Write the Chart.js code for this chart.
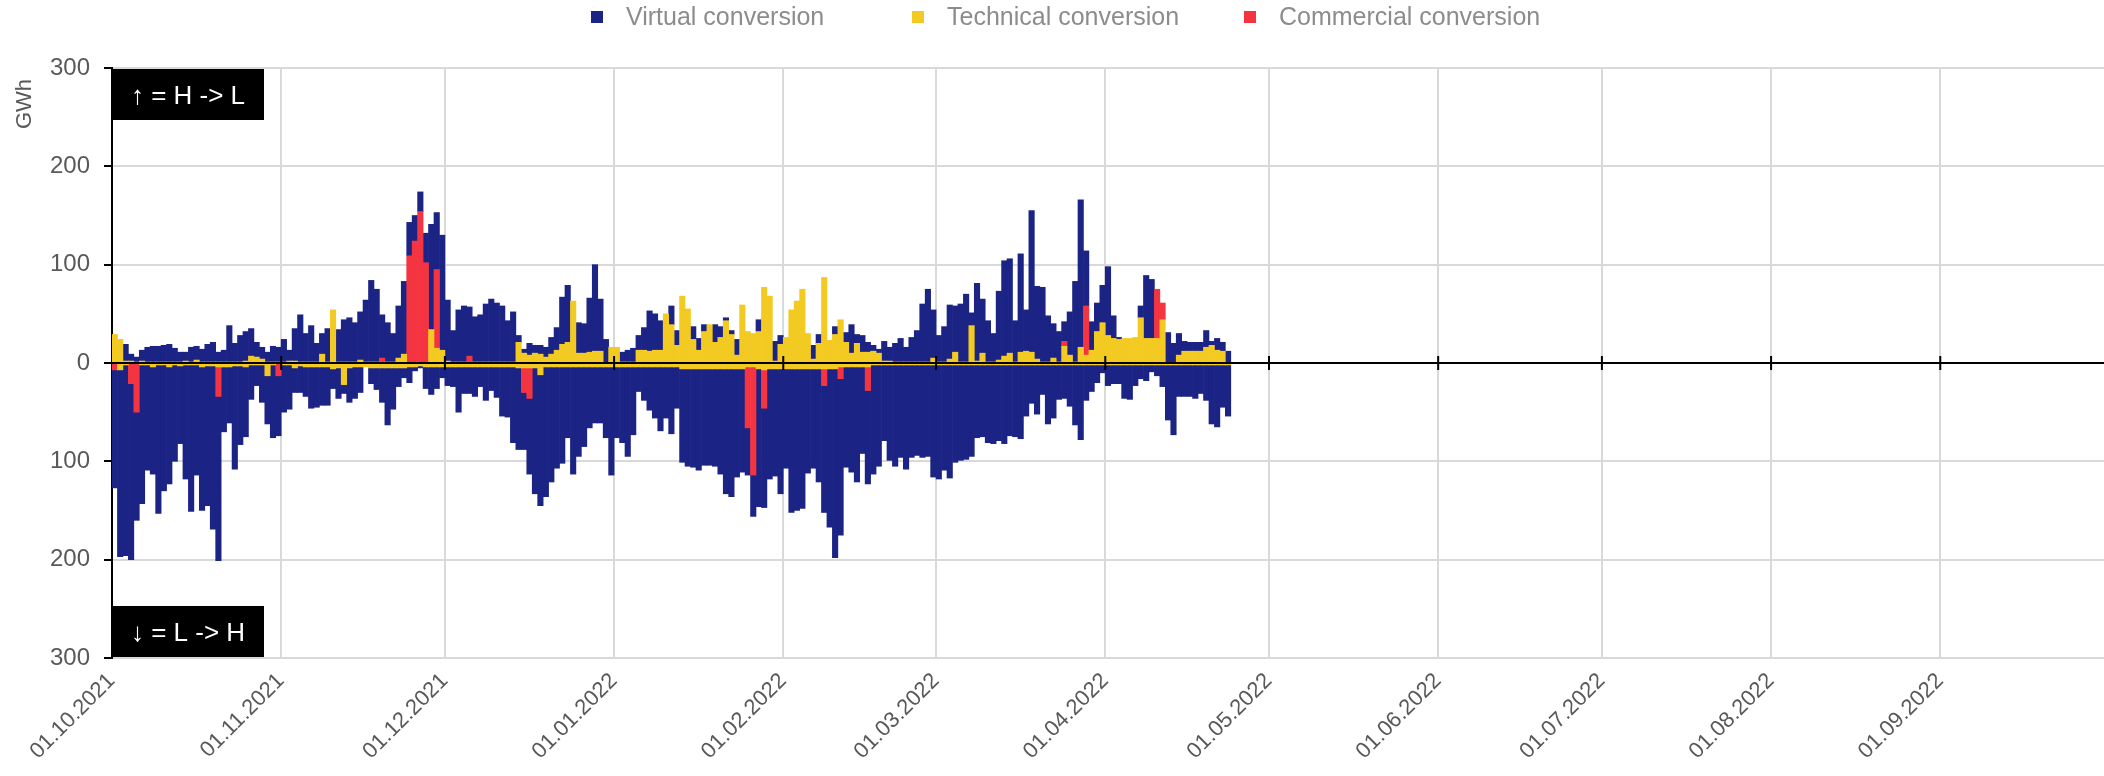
<!DOCTYPE html>
<html>
<head>
<meta charset="utf-8">
<title>Conversion H/L gas</title>
<script src="https://cdn.jsdelivr.net/npm/chart.js@4.4.1/dist/chart.umd.min.js"></script>
<style>
    html, body { margin: 0; padding: 0; background: #fff; }
    #wrap { width: 2104px; height: 776px; }
</style>
</head>
<body>
<div id="wrap"><canvas id="flowChart" width="2104" height="776"></canvas></div>
<script>
// Daily values in GWh from 01.10.2021 (index 0) to 23.04.2022
// "Up" = H -> L (positive), "Down" = L -> H (drawn below zero)
const technicalUp = [
    29, 24, 2, 2, 1, 2, 1, 1, 1, 1,
    1, 1, 1, 2, 1, 3, 1, 1, 1, 1,
    1, 1, 1, 1, 2, 7, 6, 4, 1, 1,
    1, 1, 2, 2, 1, 1, 1, 1, 9, 1,
    54, 1, 1, 1, 1, 3, 1, 1, 1, 0,
    1, 1, 5, 9, 0, 0, 0, 0, 34, 15,
    13, 2, 1, 1, 1, 0, 1, 1, 1, 1,
    1, 1, 1, 1, 21, 10, 8, 10, 9, 6,
    9, 13, 19, 21, 63, 10, 10, 11, 12, 12,
    0, 16, 16, 1, 1, 1, 13, 13, 12, 13,
    13, 50, 39, 18, 68, 55, 24, 13, 32, 39,
    21, 26, 43, 29, 8, 59, 32, 30, 32, 77,
    68, 2, 19, 26, 54, 63, 75, 30, 4, 20,
    87, 23, 29, 44, 21, 10, 20, 11, 11, 12,
    10, 2, 2, 1, 1, 1, 1, 1, 1, 1,
    5, 1, 1, 4, 11, 1, 1, 38, 2, 10,
    1, 1, 3, 7, 10, 1, 11, 12, 11, 4,
    1, 1, 5, 1, 17, 8, 1, 16, 8, 13,
    32, 41, 28, 25, 24, 25, 25, 26, 46, 25,
    25, 25, 44, 0, 0, 8, 12, 12, 12, 12,
    16, 18, 13, 12, 0
];
const commercialUp = [
    0, 0, 0, 0, 0, 0, 0, 0, 0, 0,
    0, 0, 0, 0, 0, 0, 0, 0, 0, 0,
    0, 0, 0, 0, 0, 0, 0, 0, 0, 0,
    0, 0, 0, 0, 0, 0, 0, 0, 0, 0,
    0, 0, 0, 0, 0, 0, 0, 0, 0, 5,
    0, 0, 0, 0, 109, 124, 154, 102, 0, 80,
    0, 0, 0, 0, 0, 7, 0, 0, 0, 0,
    0, 0, 0, 0, 0, 0, 0, 0, 0, 0,
    0, 0, 0, 0, 0, 0, 0, 0, 0, 0,
    0, 0, 0, 0, 0, 0, 0, 0, 0, 0,
    0, 0, 0, 0, 0, 0, 0, 0, 0, 0,
    0, 0, 0, 0, 0, 0, 0, 0, 0, 0,
    0, 0, 0, 0, 0, 0, 0, 0, 0, 0,
    0, 0, 0, 0, 0, 0, 0, 0, 0, 0,
    0, 0, 0, 0, 0, 0, 0, 0, 0, 0,
    0, 0, 0, 0, 0, 0, 0, 0, 0, 0,
    0, 0, 0, 0, 0, 0, 0, 0, 0, 0,
    0, 0, 0, 0, 5, 0, 0, 0, 50, 0,
    0, 0, 0, 0, 0, 0, 0, 0, 0, 0,
    0, 50, 17, 0, 0, 0, 0, 0, 0, 0,
    0, 0, 0, 0, 0
];
const virtualUp = [
    0, 0, 17, 7, 5, 11, 15, 16, 16, 17,
    18, 14, 10, 9, 15, 14, 13, 18, 20, 10,
    12, 37, 19, 27, 30, 28, 15, 12, 10, 16,
    15, 23, 11, 33, 48, 29, 37, 19, 21, 34,
    0, 33, 43, 45, 40, 49, 63, 83, 74, 44,
    40, 29, 53, 74, 34, 26, 20, 30, 107, 58,
    117, 62, 32, 53, 57, 50, 46, 48, 59, 64,
    60, 57, 42, 51, 7, 4, 12, 8, 9, 10,
    17, 23, 48, 58, 0, 31, 30, 55, 88, 53,
    24, 0, 0, 10, 12, 14, 15, 23, 41, 37,
    30, 0, 19, 15, 0, 0, 13, 12, 7, 0,
    18, 11, 3, 4, 16, 0, 0, 0, 12, 0,
    0, 20, 9, 0, 0, 0, 0, 0, 14, 9,
    0, 0, 8, 0, 10, 29, 9, 17, 10, 6,
    4, 20, 14, 19, 24, 15, 25, 32, 59, 74,
    49, 27, 36, 55, 47, 59, 69, 13, 79, 55,
    42, 29, 70, 97, 96, 42, 100, 42, 144, 74,
    76, 47, 35, 31, 20, 44, 82, 150, 56, 29,
    29, 38, 70, 23, 2, 0, 0, 0, 12, 64,
    60, 0, 0, 31, 20, 22, 10, 9, 9, 9,
    17, 4, 12, 9, 12
];
const technicalDown = [
    0, 7, 2, 0, 0, 2, 2, 4, 2, 2,
    4, 2, 3, 2, 2, 2, 4, 3, 3, 4,
    4, 4, 3, 3, 4, 2, 2, 2, 13, 2,
    0, 2, 2, 5, 3, 4, 4, 4, 4, 4,
    6, 5, 22, 5, 4, 4, 4, 5, 5, 5,
    5, 5, 5, 5, 4, 4, 3, 4, 4, 4,
    4, 4, 4, 4, 4, 4, 4, 4, 4, 4,
    4, 4, 4, 4, 5, 5, 5, 5, 12, 4,
    4, 4, 4, 4, 4, 4, 4, 4, 4, 4,
    4, 4, 4, 4, 4, 4, 4, 4, 4, 4,
    4, 4, 4, 4, 6, 6, 6, 6, 6, 6,
    6, 6, 6, 6, 6, 6, 4, 4, 6, 7,
    6, 6, 6, 6, 6, 6, 6, 6, 6, 6,
    6, 6, 6, 4, 4, 4, 4, 4, 4, 2,
    2, 2, 2, 2, 2, 2, 2, 2, 2, 2,
    2, 2, 2, 2, 2, 2, 2, 2, 2, 2,
    2, 2, 2, 2, 2, 2, 2, 2, 2, 2,
    2, 2, 2, 2, 2, 2, 2, 2, 2, 2,
    2, 2, 2, 2, 2, 2, 2, 2, 2, 2,
    2, 2, 2, 2, 2, 2, 2, 2, 2, 2,
    2, 2, 2, 2, 2
];
const commercialDown = [
    7, 0, 0, 21, 50, 0, 0, 0, 0, 0,
    0, 0, 0, 0, 0, 0, 0, 0, 0, 30,
    0, 0, 0, 0, 0, 0, 0, 0, 0, 0,
    13, 0, 0, 0, 0, 0, 0, 0, 0, 0,
    0, 0, 0, 0, 0, 0, 0, 0, 0, 0,
    0, 0, 0, 0, 0, 0, 0, 0, 0, 0,
    0, 0, 0, 0, 0, 0, 0, 0, 0, 0,
    0, 0, 0, 0, 0, 25, 31, 0, 0, 0,
    0, 0, 0, 0, 0, 0, 0, 0, 0, 0,
    0, 0, 0, 0, 0, 0, 0, 0, 0, 0,
    0, 0, 0, 0, 0, 0, 0, 0, 0, 0,
    0, 0, 0, 0, 0, 0, 62, 110, 0, 39,
    0, 0, 0, 0, 0, 0, 0, 0, 0, 0,
    17, 0, 0, 12, 0, 0, 0, 0, 24, 0,
    0, 0, 0, 0, 0, 0, 0, 0, 0, 0,
    0, 0, 0, 0, 0, 0, 0, 0, 0, 0,
    0, 0, 0, 0, 0, 0, 0, 0, 0, 0,
    0, 0, 0, 0, 0, 0, 0, 0, 0, 0,
    0, 0, 0, 0, 0, 0, 0, 0, 0, 0,
    0, 0, 0, 0, 0, 0, 0, 0, 0, 0,
    0, 0, 0, 0, 0
];
const virtualDown = [
    120, 190, 194, 179, 110, 141, 107, 109, 151, 128,
    119, 98, 79, 116, 149, 112, 146, 142, 166, 167,
    66, 57, 105, 80, 71, 35, 21, 38, 49, 74,
    61, 48, 45, 25, 27, 30, 42, 41, 39, 39,
    20, 31, 9, 35, 32, 26, 0, 16, 22, 35,
    58, 42, 19, 10, 16, 4, 2, 22, 28, 22,
    11, 19, 20, 46, 27, 27, 30, 20, 34, 24,
    31, 50, 51, 77, 83, 58, 77, 128, 133, 132,
    117, 103, 98, 72, 109, 91, 81, 62, 57, 57,
    72, 110, 72, 77, 91, 69, 25, 34, 44, 52,
    65, 52, 68, 42, 95, 99, 100, 103, 98, 98,
    99, 107, 127, 130, 110, 105, 48, 42, 140, 101,
    112, 109, 127, 101, 146, 144, 142, 106, 101, 115,
    129, 161, 192, 159, 102, 107, 117, 88, 95, 111,
    103, 77, 97, 103, 94, 106, 94, 92, 94, 93,
    114, 116, 107, 115, 99, 97, 96, 93, 74, 73,
    79, 80, 77, 80, 72, 73, 75, 52, 39, 50,
    30, 60, 54, 35, 34, 42, 61, 76, 36, 27,
    18, 8, 21, 19, 19, 34, 35, 21, 14, 16,
    7, 11, 22, 56, 71, 32, 32, 32, 34, 29,
    36, 60, 63, 43, 52
];
const yTicks = [300, 200, 100, 0, 100, 200, 300];

// Categories: one per day of the gas year 01.10.2021 - 30.09.2022
const days = [];
for (let t = Date.UTC(2021, 9, 1); t < Date.UTC(2022, 9, 1); t += 86400000) {
    const d = new Date(t);
    const dd = String(d.getUTCDate()).padStart(2, '0');
    const mm = String(d.getUTCMonth() + 1).padStart(2, '0');
    days.push(`${dd}.${mm}.${d.getUTCFullYear()}`);
}
const isMonthStart = i => days[i] !== undefined && days[i].startsWith('01.');

const colors = { virtual: '#1b2385', technical: '#f2ca22', commercial: '#f43541' };
const up = arr => arr.map(v => v ? v : null);
const down = arr => arr.map(v => v ? -v : null);

Chart.defaults.font.family = '"Liberation Sans", Arial, sans-serif';

// Zero line with month tick marks (axis crossing at 0)
const zeroAxis = {
    id: 'zeroAxis',
    afterDatasetsDraw(chart) {
        const { ctx, chartArea, scales: { x, y } } = chart;
        const y0 = y.getPixelForValue(0);
        ctx.save();
        ctx.strokeStyle = '#000';
        ctx.lineWidth = 2;
        ctx.beginPath();
        ctx.moveTo(chartArea.left, y0);
        ctx.lineTo(chartArea.right, y0);
        for (let i = 1; i < days.length; i++) {
            if (!isMonthStart(i)) continue;
            const xm = (x.getPixelForValue(i) + x.getPixelForValue(i - 1)) / 2;
            ctx.moveTo(xm, y0 - 7);
            ctx.lineTo(xm, y0 + 7);
        }
        ctx.stroke();
        ctx.restore();
    }
};

// Black direction labels in the corners of the plot
const directionBoxes = {
    id: 'directionBoxes',
    afterDraw(chart, args, opts) {
        const { ctx, chartArea } = chart;
        ctx.save();
        ctx.font = '26px "Liberation Sans", Arial, sans-serif';
        ctx.textAlign = 'center';
        ctx.textBaseline = 'middle';
        opts.boxes.forEach(b => {
            const top = b.at === 'top' ? chartArea.top + 1 : chartArea.bottom - opts.height - 1;
            ctx.fillStyle = '#000';
            ctx.fillRect(chartArea.left, top, opts.width, opts.height);
            ctx.fillStyle = '#fff';
            ctx.fillText(b.text, chartArea.left + opts.width / 2, top + opts.height / 2 + 2);
        });
        ctx.restore();
    }
};

// Legend with the spacing of the original
const topLegend = {
    id: 'topLegend',
    afterDraw(chart, args, opts) {
        const { ctx } = chart;
        ctx.save();
        ctx.font = '25px "Liberation Sans", Arial, sans-serif';
        ctx.textBaseline = 'middle';
        opts.order.forEach((dsIndex, k) => {
            const ds = chart.data.datasets[dsIndex];
            const bx = opts.x[k];
            ctx.fillStyle = ds.backgroundColor;
            ctx.fillRect(bx, opts.y - 6, 12, 12);
            ctx.fillStyle = '#8c8c8c';
            ctx.fillText(ds.label, bx + 35, opts.y + 1);
        });
        ctx.restore();
    }
};

const barDefaults = { stack: 'flow', barPercentage: 1, categoryPercentage: 1, borderWidth: 0 };

new Chart(document.getElementById('flowChart'), {
    type: 'bar',
    data: {
        labels: days,
        datasets: [
            { ...barDefaults, label: 'Technical conversion', data: up(technicalUp), backgroundColor: colors.technical },
            { ...barDefaults, label: 'Technical conversion', data: down(technicalDown), backgroundColor: colors.technical },
            { ...barDefaults, label: 'Commercial conversion', data: up(commercialUp), backgroundColor: colors.commercial },
            { ...barDefaults, label: 'Commercial conversion', data: down(commercialDown), backgroundColor: colors.commercial },
            { ...barDefaults, label: 'Virtual conversion', data: up(virtualUp), backgroundColor: colors.virtual },
            { ...barDefaults, label: 'Virtual conversion', data: down(virtualDown), backgroundColor: colors.virtual }
        ]
    },
    options: {
        responsive: false,
        maintainAspectRatio: false,
        devicePixelRatio: 1,
        animation: false,
        layout: { padding: { top: 68, left: 0, right: 0, bottom: 0 } },
        plugins: {
            legend: { display: false },
            tooltip: { enabled: false },
            topLegend: { order: [4, 0, 2], x: [591, 912, 1244], y: 17 },
            directionBoxes: {
                width: 152,
                height: 51,
                boxes: [
                    { at: 'top', text: '\u2191 = H -> L' },
                    { at: 'bottom', text: '\u2193 = L -> H' }
                ]
            }
        },
        scales: {
            x: {
                stacked: true,
                grid: {
                    offset: true,
                    drawTicks: false,
                    lineWidth: 2,
                    color: c => isMonthStart(c.index) ? '#d9d9d9' : 'rgba(0,0,0,0)'
                },
                border: { color: '#d9d9d9', width: 2 },
                ticks: {
                    autoSkip: false,
                    minRotation: 45,
                    maxRotation: 45,
                    padding: 10,
                    labelOffset: -3,
                    color: '#595959',
                    font: { size: 22 },
                    callback: (value, index) => isMonthStart(index) ? days[index] : ''
                },
                afterFit: scale => {
                    scale.height = 118;
                    scale.paddingLeft = 0;
                    scale.paddingRight = 0;
                }
            },
            y: {
                stacked: true,
                min: -300,
                max: 300,
                grid: { color: '#d9d9d9', lineWidth: 2, tickColor: '#000', tickLength: 8 },
                border: { color: '#000', width: 2 },
                ticks: {
                    stepSize: 100,
                    padding: 14,
                    color: '#595959',
                    font: { size: 24 },
                    callback: value => yTicks[(300 - value) / 100]
                },
                title: {
                    display: true,
                    text: 'GWh\u2002',
                    align: 'end',
                    color: '#595959',
                    font: { size: 22 },
                    padding: { top: 12, bottom: 0 }
                },
                afterFit: scale => { scale.width = 112; }
            }
        }
    },
    plugins: [zeroAxis, directionBoxes, topLegend]
});
</script>
</body>
</html>
